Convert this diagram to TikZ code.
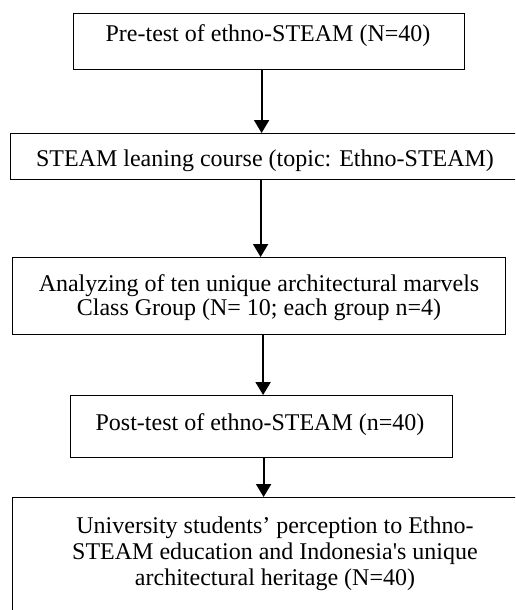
\documentclass[tikz,border=0pt]{standalone}
\usepackage{fontspec}
\setmainfont{Liberation Serif}
\usetikzlibrary{arrows.meta}
\begin{document}
\begin{tikzpicture}[x=1pt,y=-1pt,
  box/.style={draw=black,line width=1.2pt,rectangle,inner sep=0pt,anchor=north west},
  lbl/.style={inner sep=0pt,font=\fontsize{24}{24}\selectfont,align=center},
  arr/.style={line width=2pt,-{Triangle[width=15pt,length=13pt]}}]
\useasboundingbox (0,0) rectangle (515,610);
\clip (0,0) rectangle (515,610);
\node[box,minimum width=391pt,minimum height=56pt] (b1) at (73,13) {};
\node[box,minimum width=510pt,minimum height=46pt] (b2) at (10,133) {};
\node[box,minimum width=493pt,minimum height=77pt] (b3) at (12,257) {};
\node[box,minimum width=382pt,minimum height=62pt] (b4) at (70,395) {};
\node[box,minimum width=530pt,minimum height=140pt] (b5) at (12,497) {};
\node[lbl,anchor=base] (t1) at (268,42) {Pre-test of ethno-STEAM (N=40)};
\node[lbl,anchor=base] (t2) at (265,166) {STEAM leaning course (topic: Ethno-STEAM)};
\node[lbl,anchor=base] (t3) at (259,315) {Analyzing of ten unique architectural marvels\\Class Group (N= 10; each group n=4)};
\node[lbl,anchor=base] (t4) at (260,430) {Post-test of ethno-STEAM (n=40)};
\node[lbl,anchor=base,font=\fontsize{24}{26}\selectfont] (t5) at (275,585) {University students’ perception to Ethno-\\STEAM education and Indonesia\textquotesingle s unique\\architectural heritage (N=40)};
\draw[arr] ([xshift=-7.5pt]b1.south) -- ([xshift=-7.5pt]b1.south |- b2.north);
\draw[arr] ([xshift=-5pt]b2.south) -- ([xshift=-5pt]b2.south |- b3.north);
\draw[arr] ([xshift=4pt]b3.south) -- ([xshift=4pt]b3.south |- b4.north);
\draw[arr] ([xshift=2pt]b4.south) -- ([xshift=2pt]b4.south |- b5.north);
\end{tikzpicture}
\end{document}
